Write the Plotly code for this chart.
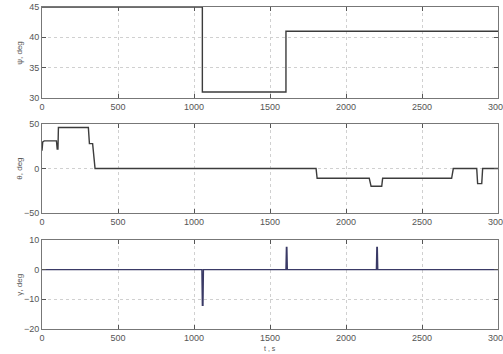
import plotly.graph_objects as go
from plotly.subplots import make_subplots

# psi, deg
psi_t = [0, 1055, 1055, 1605, 1605, 3000]
psi_v = [45, 45, 31, 31, 41, 41]

# theta, deg
theta_t = [0, 5, 15, 95, 100, 105, 108, 305, 312, 333, 349, 1803, 1810, 2153, 2165, 2235, 2241,
           2695, 2706, 2860, 2866, 2893, 2899, 3000]
theta_v = [20, 30, 31, 31, 22, 22, 46, 46, 28, 28, 0, 0, -11, -11, -20, -20, -11,
           -11, 0, 0, -17, -17, 0, 0]

# gamma, deg
gamma_t = [0, 1052, 1055, 1059, 1062, 1605, 1608, 1611, 1614, 2200, 2203, 2206, 2209, 3000]
gamma_v = [0, 0, -12, -12, 0, 0, 7.5, 7.5, 0, 0, 7.5, 7.5, 0, 0]

x_ticks = [0, 500, 1000, 1500, 2000, 2500, 3000]
y_titles = ["ψ, deg", "θ, deg", "γ, deg"]
y_ranges = [[30, 45], [-50, 50], [-20, 10]]
y_ticks = [[30, 35, 40, 45], [-50, 0, 50], [-20, -10, 0, 10]]

fig = make_subplots(rows=3, cols=1, shared_xaxes=False, vertical_spacing=0.08)

line_col = "#3c3c3c"
fig.add_trace(go.Scatter(x=psi_t, y=psi_v, mode="lines",
                         line=dict(color=line_col, width=1.4)), row=1, col=1)
fig.add_trace(go.Scatter(x=theta_t, y=theta_v, mode="lines",
                         line=dict(color=line_col, width=1.4)), row=2, col=1)
fig.add_trace(go.Scatter(x=gamma_t, y=gamma_v, mode="lines",
                         line=dict(color="#3a3a66", width=1.4)), row=3, col=1)

domains = [[0.7174, 1.0], [0.3602, 0.6366], [0.0, 0.2764]]
for i in range(3):
    ax = "" if i == 0 else str(i + 1)
    fig.layout["xaxis" + ax].update(
        domain=[0, 1], range=[0, 3000], tickvals=x_ticks, automargin=False,
        ticks="inside", ticklen=4, tickcolor="#555", mirror="ticks",
        showline=True, linecolor="#777", linewidth=1,
        showgrid=True, gridcolor="#d0d0d0", griddash="dot", gridwidth=1,
        tickfont=dict(family="Liberation Sans", size=9, color="#555"),
        ticklabeloverflow="allow",
        zeroline=False)
    fig.layout["yaxis" + ax].update(
        domain=domains[i], range=y_ranges[i], tickvals=y_ticks[i], automargin=False,
        ticks="inside", ticklen=4, tickcolor="#555", mirror="ticks",
        showline=True, linecolor="#777", linewidth=1,
        showgrid=True, gridcolor="#d0d0d0", griddash="dot", gridwidth=1,
        tickfont=dict(family="Liberation Sans", size=9, color="#555"),
        ticklabeloverflow="allow",
        zeroline=False)
    fig.add_annotation(text=y_titles[i], textangle=-90, showarrow=False,
                       xref="paper", yref="paper", x=-0.05, xanchor="center",
                       y=(domains[i][0] + domains[i][1]) / 2, yanchor="middle",
                       font=dict(family="Liberation Sans", size=8, color="#555"))

fig.add_annotation(text="t , s", showarrow=False, xref="paper", yref="paper",
                   x=0.5, y=-0.042, xanchor="center", yanchor="top",
                   font=dict(family="Liberation Sans", size=7, color="#555"))

fig.update_layout(width=503, height=354, showlegend=False,
                  margin=dict(l=42, r=5, t=7, b=25),
                  paper_bgcolor="white", plot_bgcolor="white")

fig.write_html("out.html", config={"displayModeBar": False},
               post_script="document.body.style.margin='0';document.body.style.overflow='hidden';")
